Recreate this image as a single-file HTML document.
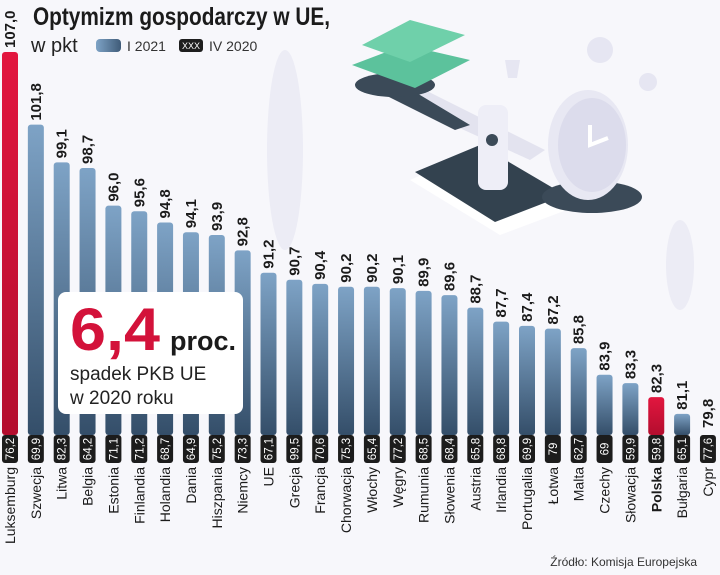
<!DOCTYPE html>
<html><head><meta charset="utf-8">
<style>
html,body{margin:0;padding:0;background:#f7f7fb;}
svg{display:block;font-family:"Liberation Sans",sans-serif;}
</style></head>
<body>
<svg id="chart" width="720" height="575" viewBox="0 0 720 575">
<defs>
<linearGradient id="gb" x1="0" y1="0" x2="0" y2="1"><stop offset="0" stop-color="#7ea3c6"/><stop offset="1" stop-color="#344e69"/></linearGradient>
<linearGradient id="gr" x1="0" y1="0" x2="0" y2="1"><stop offset="0" stop-color="#e2163f"/><stop offset="1" stop-color="#b30d2e"/></linearGradient>
<linearGradient id="lg" x1="0" y1="0" x2="1" y2="0"><stop offset="0" stop-color="#7ea3c6"/><stop offset="1" stop-color="#3f5b78"/></linearGradient>
</defs>
<rect width="720" height="575" fill="#f7f7fb"/>
<!-- illustration -->
<g>
<ellipse cx="285" cy="150" rx="18" ry="100" fill="#ececf5"/>
<polygon points="410,180 480,150 580,205 500,235" fill="#fff"/>
<polygon points="415,172 480,145 565,195 495,222" fill="#33424f"/>
<polygon points="365,85 405,80 545,150 530,160" fill="#e3e3ef"/>
<polygon points="365,85 395,80 470,125 455,130" fill="#3b4a58"/>
<rect x="478" y="105" width="30" height="85" rx="8" fill="#eeeef7"/>
<circle cx="492" cy="140" r="6" fill="#3b4a58"/>
<ellipse cx="395" cy="85" rx="40" ry="12" fill="#3b4a58"/>
<polygon points="352,65 405,45 470,60 415,88" fill="#5cc29c"/>
<polygon points="362,45 410,20 465,35 410,62" fill="#6fd0aa"/>
<ellipse cx="592" cy="197" rx="50" ry="16" fill="#3b4a58"/>
<ellipse cx="588" cy="145" rx="40" ry="55" fill="#e8e8f3"/>
<ellipse cx="592" cy="145" rx="34" ry="47" fill="#dcdcec"/>
<polyline points="590,125 590,145 608,138" fill="none" stroke="#fff" stroke-width="4"/>
<polygon points="505,60 520,60 517,78 508,78" fill="#e6e6f2"/>
<circle cx="600" cy="50" r="13" fill="#e6e6f2"/><circle cx="648" cy="82" r="9" fill="#e6e6f2"/>
<ellipse cx="680" cy="265" rx="14" ry="45" fill="#ececf5"/>
</g>
<!-- title -->
<text x="33" y="25" font-size="25" font-weight="bold" fill="#1b1b1b" textLength="297" lengthAdjust="spacingAndGlyphs">Optymizm gospodarczy w UE,</text>
<text x="31" y="52" font-size="20" fill="#222">w pkt</text>
<g>
<rect x="96" y="39" width="25" height="13" rx="4" fill="url(#lg)"/>
<text x="127" y="51" font-size="14" fill="#333">I 2021</text>
<rect x="179" y="39" width="24" height="13" rx="3" fill="#1e1e1e"/>
<text x="191" y="49" font-size="9" fill="#fff" text-anchor="middle">XXX</text>
<text x="209" y="51" font-size="14" fill="#333">IV 2020</text>
</g>
<g id="bars"></g>
<!-- callout -->
<g>
<rect x="58" y="292" width="185" height="122" rx="8" fill="#fff"/>
<text x="70" y="350" font-size="60" font-weight="bold" fill="#d3123a" textLength="90" lengthAdjust="spacingAndGlyphs">6,4</text>
<text x="170" y="350" font-size="27" font-weight="bold" fill="#1b1b1b">proc.</text>
<text x="70" y="380" font-size="19" fill="#222">spadek PKB UE</text>
<text x="70" y="404" font-size="19" fill="#222">w 2020 roku</text>
</g>
<text x="697" y="566" font-size="12" fill="#333" text-anchor="end">Źródło: Komisja Europejska</text>
</svg>
<script>
const countries = ["Luksemburg","Szwecja","Litwa","Belgia","Estonia","Finlandia","Holandia","Dania","Hiszpania","Niemcy","UE","Grecja","Francja","Chorwacja","Włochy","Węgry","Rumunia","Słowenia","Austria","Irlandia","Portugalia","Łotwa","Malta","Czechy","Słowacja","Polska","Bułgaria","Cypr"];
const values2021 = [107.0,101.8,99.1,98.7,96.0,95.6,94.8,94.1,93.9,92.8,91.2,90.7,90.4,90.2,90.2,90.1,89.9,89.6,88.7,87.7,87.4,87.2,85.8,83.9,83.3,82.3,81.1,79.8];
const values2020 = ["76,2","69,9","82,3","64,2","71,1","71,2","68,7","64,9","75,2","73,3","67,1","99,5","70,6","75,3","65,4","77,2","68,5","68,4","65,8","68,8","69,9","79","62,7","69","59,9","59,8","65,1","77,6"];
const highlighted = ["Luksemburg","Polska"];
const NS = "http://www.w3.org/2000/svg";
const yMin = 79.8, baseY = 432, pxPerUnit = 13.97;
function y(v){ return baseY - (v - yMin) * pxPerUnit; }
function x(i){ return 2 + i * 25.85; }
const g = document.getElementById("bars");
function mk(tag, attrs){ const e = document.createElementNS(NS, tag); for (const k in attrs) e.setAttribute(k, attrs[k]); return e; }
countries.forEach((c, i) => {
  const v = values2021[i], bx = x(i), top = y(v), w = 16, cx = bx + w/2;
  const hl = highlighted.includes(c);
  if (baseY - top > 0.5) {
    const r = mk("rect", {x: bx, y: top, width: w, height: baseY - top + 3, rx: 3, fill: hl ? "url(#gr)" : "url(#gb)"});
    
    
    g.appendChild(r);
  }
  const vl = mk("text", {x: 0, y: 0, "font-size": 15, "font-weight": "bold", fill: "#1b1b1b", transform: `translate(${cx + 5},${top - 4}) rotate(-90)`});
  vl.textContent = v.toFixed(1).replace(".", ",");
  
  
  g.appendChild(vl);
  const box = mk("rect", {x: bx, y: 435, width: w, height: 28, rx: 3, fill: "#1c1c1c"});
  
  
  g.appendChild(box);
  const pt = mk("text", {x: 0, y: 0, "font-size": 11.5, fill: "#fff", "text-anchor": "middle", transform: `translate(${cx + 4},449) rotate(-90)`});
  pt.textContent = values2020[i];
  
  
  g.appendChild(pt);
  const cl = mk("text", {x: 0, y: 0, "font-size": 14, fill: "#1b1b1b", "text-anchor": "end", "font-weight": c === "Polska" ? "bold" : "normal", transform: `translate(${cx + 5},467) rotate(-90)`});
  cl.textContent = c;
  
  
  g.appendChild(cl);
});
</script>
</body></html>
